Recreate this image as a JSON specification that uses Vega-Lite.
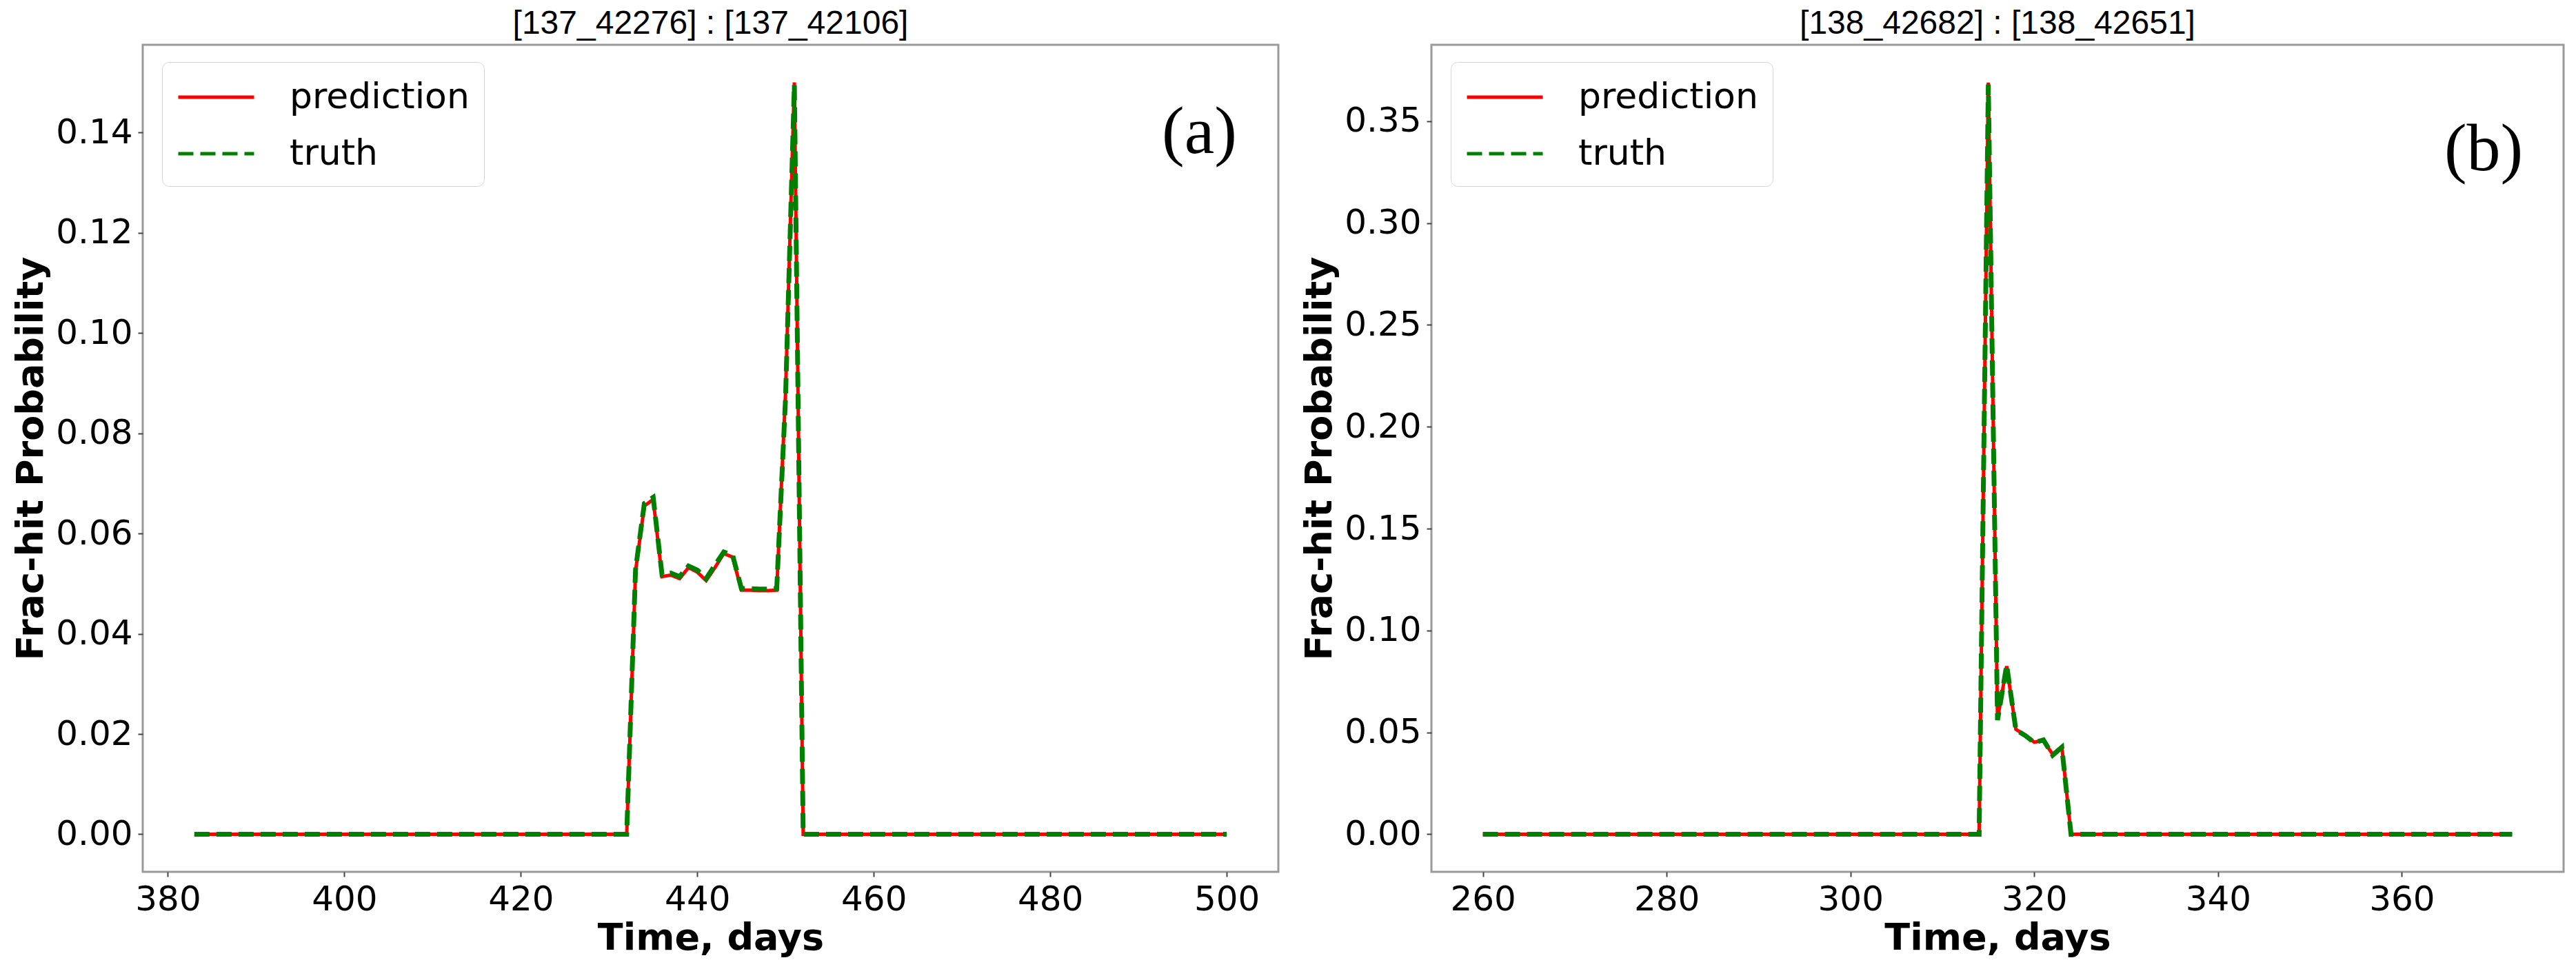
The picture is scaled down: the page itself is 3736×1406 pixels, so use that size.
{
  "$schema": "https://vega.github.io/schema/vega-lite/v6.json",
  "background": "white",
  "padding": {"left": 17, "top": 9, "right": 10, "bottom": 5},
  "bounds": "flush",
  "spacing": 222,
  "datasets": {
    "a": [
      {"day":383,"prediction":0,"truth":0},{"day":384,"prediction":0,"truth":0},{"day":385,"prediction":0,"truth":0},{"day":386,"prediction":0,"truth":0},{"day":387,"prediction":0,"truth":0},{"day":388,"prediction":0,"truth":0},{"day":389,"prediction":0,"truth":0},{"day":390,"prediction":0,"truth":0},{"day":391,"prediction":0,"truth":0},{"day":392,"prediction":0,"truth":0},
      {"day":393,"prediction":0,"truth":0},{"day":394,"prediction":0,"truth":0},{"day":395,"prediction":0,"truth":0},{"day":396,"prediction":0,"truth":0},{"day":397,"prediction":0,"truth":0},{"day":398,"prediction":0,"truth":0},{"day":399,"prediction":0,"truth":0},{"day":400,"prediction":0,"truth":0},{"day":401,"prediction":0,"truth":0},{"day":402,"prediction":0,"truth":0},
      {"day":403,"prediction":0,"truth":0},{"day":404,"prediction":0,"truth":0},{"day":405,"prediction":0,"truth":0},{"day":406,"prediction":0,"truth":0},{"day":407,"prediction":0,"truth":0},{"day":408,"prediction":0,"truth":0},{"day":409,"prediction":0,"truth":0},{"day":410,"prediction":0,"truth":0},{"day":411,"prediction":0,"truth":0},{"day":412,"prediction":0,"truth":0},
      {"day":413,"prediction":0,"truth":0},{"day":414,"prediction":0,"truth":0},{"day":415,"prediction":0,"truth":0},{"day":416,"prediction":0,"truth":0},{"day":417,"prediction":0,"truth":0},{"day":418,"prediction":0,"truth":0},{"day":419,"prediction":0,"truth":0},{"day":420,"prediction":0,"truth":0},{"day":421,"prediction":0,"truth":0},{"day":422,"prediction":0,"truth":0},
      {"day":423,"prediction":0,"truth":0},{"day":424,"prediction":0,"truth":0},{"day":425,"prediction":0,"truth":0},{"day":426,"prediction":0,"truth":0},{"day":427,"prediction":0,"truth":0},{"day":428,"prediction":0,"truth":0},{"day":429,"prediction":0,"truth":0},{"day":430,"prediction":0,"truth":0},{"day":431,"prediction":0,"truth":0},{"day":432,"prediction":0,"truth":0},
      {"day":433,"prediction":0.0525,"truth":0.0528},
      {"day":434,"prediction":0.0655,"truth":0.0660},
      {"day":435,"prediction":0.0668,"truth":0.0672},
      {"day":436,"prediction":0.0514,"truth":0.0518},
      {"day":437,"prediction":0.0517,"truth":0.0521},
      {"day":438,"prediction":0.0510,"truth":0.0514},
      {"day":439,"prediction":0.0532,"truth":0.0535},
      {"day":440,"prediction":0.0523,"truth":0.0527},
      {"day":441,"prediction":0.0506,"truth":0.0510},
      {"day":442,"prediction":0.0532,"truth":0.0537},
      {"day":443,"prediction":0.0560,"truth":0.0563},
      {"day":444,"prediction":0.0553,"truth":0.0557},
      {"day":445,"prediction":0.0487,"truth":0.0490},
      {"day":446,"prediction":0.0487,"truth":0.0490},
      {"day":447,"prediction":0.0486,"truth":0.0489},
      {"day":448,"prediction":0.0486,"truth":0.0489},
      {"day":449,"prediction":0.0487,"truth":0.0490},
      {"day":450,"prediction":0.0880,"truth":0.0870},
      {"day":451,"prediction":0.1500,"truth":0.1495},
      {"day":452,"prediction":0,"truth":0},{"day":453,"prediction":0,"truth":0},{"day":454,"prediction":0,"truth":0},{"day":455,"prediction":0,"truth":0},{"day":456,"prediction":0,"truth":0},{"day":457,"prediction":0,"truth":0},{"day":458,"prediction":0,"truth":0},{"day":459,"prediction":0,"truth":0},{"day":460,"prediction":0,"truth":0},{"day":461,"prediction":0,"truth":0},
      {"day":462,"prediction":0,"truth":0},{"day":463,"prediction":0,"truth":0},{"day":464,"prediction":0,"truth":0},{"day":465,"prediction":0,"truth":0},{"day":466,"prediction":0,"truth":0},{"day":467,"prediction":0,"truth":0},{"day":468,"prediction":0,"truth":0},{"day":469,"prediction":0,"truth":0},{"day":470,"prediction":0,"truth":0},{"day":471,"prediction":0,"truth":0},
      {"day":472,"prediction":0,"truth":0},{"day":473,"prediction":0,"truth":0},{"day":474,"prediction":0,"truth":0},{"day":475,"prediction":0,"truth":0},{"day":476,"prediction":0,"truth":0},{"day":477,"prediction":0,"truth":0},{"day":478,"prediction":0,"truth":0},{"day":479,"prediction":0,"truth":0},{"day":480,"prediction":0,"truth":0},{"day":481,"prediction":0,"truth":0},
      {"day":482,"prediction":0,"truth":0},{"day":483,"prediction":0,"truth":0},{"day":484,"prediction":0,"truth":0},{"day":485,"prediction":0,"truth":0},{"day":486,"prediction":0,"truth":0},{"day":487,"prediction":0,"truth":0},{"day":488,"prediction":0,"truth":0},{"day":489,"prediction":0,"truth":0},{"day":490,"prediction":0,"truth":0},{"day":491,"prediction":0,"truth":0},
      {"day":492,"prediction":0,"truth":0},{"day":493,"prediction":0,"truth":0},{"day":494,"prediction":0,"truth":0},{"day":495,"prediction":0,"truth":0},{"day":496,"prediction":0,"truth":0},{"day":497,"prediction":0,"truth":0},{"day":498,"prediction":0,"truth":0},{"day":499,"prediction":0,"truth":0},{"day":500,"prediction":0,"truth":0}
    ],
    "b": [
      {"day":260,"prediction":0,"truth":0},{"day":261,"prediction":0,"truth":0},{"day":262,"prediction":0,"truth":0},{"day":263,"prediction":0,"truth":0},{"day":264,"prediction":0,"truth":0},{"day":265,"prediction":0,"truth":0},{"day":266,"prediction":0,"truth":0},{"day":267,"prediction":0,"truth":0},{"day":268,"prediction":0,"truth":0},{"day":269,"prediction":0,"truth":0},
      {"day":270,"prediction":0,"truth":0},{"day":271,"prediction":0,"truth":0},{"day":272,"prediction":0,"truth":0},{"day":273,"prediction":0,"truth":0},{"day":274,"prediction":0,"truth":0},{"day":275,"prediction":0,"truth":0},{"day":276,"prediction":0,"truth":0},{"day":277,"prediction":0,"truth":0},{"day":278,"prediction":0,"truth":0},{"day":279,"prediction":0,"truth":0},
      {"day":280,"prediction":0,"truth":0},{"day":281,"prediction":0,"truth":0},{"day":282,"prediction":0,"truth":0},{"day":283,"prediction":0,"truth":0},{"day":284,"prediction":0,"truth":0},{"day":285,"prediction":0,"truth":0},{"day":286,"prediction":0,"truth":0},{"day":287,"prediction":0,"truth":0},{"day":288,"prediction":0,"truth":0},{"day":289,"prediction":0,"truth":0},
      {"day":290,"prediction":0,"truth":0},{"day":291,"prediction":0,"truth":0},{"day":292,"prediction":0,"truth":0},{"day":293,"prediction":0,"truth":0},{"day":294,"prediction":0,"truth":0},{"day":295,"prediction":0,"truth":0},{"day":296,"prediction":0,"truth":0},{"day":297,"prediction":0,"truth":0},{"day":298,"prediction":0,"truth":0},{"day":299,"prediction":0,"truth":0},
      {"day":300,"prediction":0,"truth":0},{"day":301,"prediction":0,"truth":0},{"day":302,"prediction":0,"truth":0},{"day":303,"prediction":0,"truth":0},{"day":304,"prediction":0,"truth":0},{"day":305,"prediction":0,"truth":0},{"day":306,"prediction":0,"truth":0},{"day":307,"prediction":0,"truth":0},{"day":308,"prediction":0,"truth":0},{"day":309,"prediction":0,"truth":0},
      {"day":310,"prediction":0,"truth":0},{"day":311,"prediction":0,"truth":0},{"day":312,"prediction":0,"truth":0},{"day":313,"prediction":0,"truth":0},{"day":314,"prediction":0,"truth":0},
      {"day":315,"prediction":0.369,"truth":0.368},
      {"day":316,"prediction":0.0565,"truth":0.0560},
      {"day":317,"prediction":0.0825,"truth":0.0830},
      {"day":318,"prediction":0.0515,"truth":0.0512},
      {"day":319,"prediction":0.0487,"truth":0.0485},
      {"day":320,"prediction":0.0452,"truth":0.0450},
      {"day":321,"prediction":0.0460,"truth":0.0463},
      {"day":322,"prediction":0.0392,"truth":0.0388},
      {"day":323,"prediction":0.0430,"truth":0.0427},
      {"day":324,"prediction":0,"truth":0},{"day":325,"prediction":0,"truth":0},{"day":326,"prediction":0,"truth":0},{"day":327,"prediction":0,"truth":0},{"day":328,"prediction":0,"truth":0},{"day":329,"prediction":0,"truth":0},{"day":330,"prediction":0,"truth":0},{"day":331,"prediction":0,"truth":0},{"day":332,"prediction":0,"truth":0},{"day":333,"prediction":0,"truth":0},
      {"day":334,"prediction":0,"truth":0},{"day":335,"prediction":0,"truth":0},{"day":336,"prediction":0,"truth":0},{"day":337,"prediction":0,"truth":0},{"day":338,"prediction":0,"truth":0},{"day":339,"prediction":0,"truth":0},{"day":340,"prediction":0,"truth":0},{"day":341,"prediction":0,"truth":0},{"day":342,"prediction":0,"truth":0},{"day":343,"prediction":0,"truth":0},
      {"day":344,"prediction":0,"truth":0},{"day":345,"prediction":0,"truth":0},{"day":346,"prediction":0,"truth":0},{"day":347,"prediction":0,"truth":0},{"day":348,"prediction":0,"truth":0},{"day":349,"prediction":0,"truth":0},{"day":350,"prediction":0,"truth":0},{"day":351,"prediction":0,"truth":0},{"day":352,"prediction":0,"truth":0},{"day":353,"prediction":0,"truth":0},
      {"day":354,"prediction":0,"truth":0},{"day":355,"prediction":0,"truth":0},{"day":356,"prediction":0,"truth":0},{"day":357,"prediction":0,"truth":0},{"day":358,"prediction":0,"truth":0},{"day":359,"prediction":0,"truth":0},{"day":360,"prediction":0,"truth":0},{"day":361,"prediction":0,"truth":0},{"day":362,"prediction":0,"truth":0},{"day":363,"prediction":0,"truth":0},
      {"day":364,"prediction":0,"truth":0},{"day":365,"prediction":0,"truth":0},{"day":366,"prediction":0,"truth":0},{"day":367,"prediction":0,"truth":0},{"day":368,"prediction":0,"truth":0},{"day":369,"prediction":0,"truth":0},{"day":370,"prediction":0,"truth":0},{"day":371,"prediction":0,"truth":0},{"day":372,"prediction":0,"truth":0}
    ]
  },
  "config": {
    "view": {"stroke": "#9a9a9a", "strokeWidth": 3},
    "axis": {
      "grid": false, "domain": false,
      "labelFont": "DejaVu Sans", "labelFontSize": 50, "labelColor": "black",
      "titleFont": "DejaVu Sans", "titleFontSize": 54, "titleFontWeight": "bold", "titleColor": "black",
      "tickColor": "#444", "tickSize": 7, "tickWidth": 2, "labelPadding": 8
    },
    "axisY": {"titlePadding": 8},
    "axisX": {"titlePadding": 4},
    "title": {"font": "Liberation Sans", "fontSize": 48, "fontWeight": "normal", "color": "black", "offset": 6},
    "legend": {
      "orient": "none", "legendX": 28, "legendY": 25,
      "symbolType": "M-1,0H3", "symbolSize": 3025, "symbolStrokeWidth": 5,
      "labelFont": "DejaVu Sans", "labelFontSize": 52, "labelColor": "black", "labelOffset": 104, "labelLimit": 0,
      "fillColor": "white", "strokeColor": "#d4d4d4", "cornerRadius": 10,
      "padding": 21, "rowPadding": 26
    }
  },
  "resolve": {
    "scale": {"x": "independent", "y": "independent", "color": "independent", "strokeDash": "independent"},
    "legend": {"color": "independent", "strokeDash": "independent"}
  },
  "hconcat": [
    {
      "width": 1647, "height": 1200,
      "title": "[137_42276] : [137_42106]",
      "layer": [
        {
          "data": {"name": "a"},
          "mark": {"type": "line", "strokeWidth": 5},
          "encoding": {
            "x": {"field": "day", "type": "quantitative", "scale": {"domain": [377.15, 505.85], "nice": false, "zero": false}, "axis": {"title": "Time, days", "values": [380, 400, 420, 440, 460, 480, 500], "format": "d"}},
            "y": {"field": "prediction", "type": "quantitative", "scale": {"domain": [-0.0075, 0.1575], "nice": false, "zero": false}, "axis": {"title": "Frac-hit Probability", "values": [0, 0.02, 0.04, 0.06, 0.08, 0.1, 0.12, 0.14], "format": ".2f"}},
            "color": {"datum": "prediction", "type": "nominal", "scale": {"domain": ["prediction", "truth"], "range": ["#ff0000", "#008000"]}, "legend": {"title": null}},
            "strokeDash": {"datum": "prediction", "type": "nominal", "scale": {"domain": ["prediction", "truth"], "range": [[1, 0], [22, 10]]}, "legend": {"title": null}}
          }
        },
        {
          "data": {"name": "a"},
          "mark": {"type": "line", "strokeWidth": 7},
          "encoding": {
            "x": {"field": "day", "type": "quantitative"},
            "y": {"field": "truth", "type": "quantitative", "axis": {"title": "Frac-hit Probability"}},
            "color": {"datum": "truth", "type": "nominal"},
            "strokeDash": {"datum": "truth", "type": "nominal"}
          }
        },
        {
          "data": {"values": [{"label": "(a)"}]},
          "mark": {"type": "text", "font": "Liberation Serif", "fontSize": 98, "align": "center", "baseline": "alphabetic", "color": "black"},
          "encoding": {
            "x": {"datum": 496.9, "type": "quantitative"},
            "y": {"datum": 0.1359, "type": "quantitative"},
            "text": {"field": "label"}
          }
        }
      ]
    },
    {
      "width": 1642, "height": 1200,
      "title": "[138_42682] : [138_42651]",
      "layer": [
        {
          "data": {"name": "b"},
          "mark": {"type": "line", "strokeWidth": 5},
          "encoding": {
            "x": {"field": "day", "type": "quantitative", "scale": {"domain": [254.4, 377.6], "nice": false, "zero": false}, "axis": {"title": "Time, days", "values": [260, 280, 300, 320, 340, 360], "format": "d"}},
            "y": {"field": "prediction", "type": "quantitative", "scale": {"domain": [-0.01845, 0.3875], "nice": false, "zero": false}, "axis": {"title": "Frac-hit Probability", "values": [0, 0.05, 0.1, 0.15, 0.2, 0.25, 0.3, 0.35], "format": ".2f"}},
            "color": {"datum": "prediction", "type": "nominal", "scale": {"domain": ["prediction", "truth"], "range": ["#ff0000", "#008000"]}, "legend": {"title": null}},
            "strokeDash": {"datum": "prediction", "type": "nominal", "scale": {"domain": ["prediction", "truth"], "range": [[1, 0], [22, 10]]}, "legend": {"title": null}}
          }
        },
        {
          "data": {"name": "b"},
          "mark": {"type": "line", "strokeWidth": 7},
          "encoding": {
            "x": {"field": "day", "type": "quantitative"},
            "y": {"field": "truth", "type": "quantitative", "axis": {"title": "Frac-hit Probability"}},
            "color": {"datum": "truth", "type": "nominal"},
            "strokeDash": {"datum": "truth", "type": "nominal"}
          }
        },
        {
          "data": {"values": [{"label": "(b)"}]},
          "mark": {"type": "text", "font": "Liberation Serif", "fontSize": 98, "align": "center", "baseline": "alphabetic", "color": "black"},
          "encoding": {
            "x": {"datum": 368.9, "type": "quantitative"},
            "y": {"datum": 0.3258, "type": "quantitative"},
            "text": {"field": "label"}
          }
        }
      ]
    }
  ]
}
